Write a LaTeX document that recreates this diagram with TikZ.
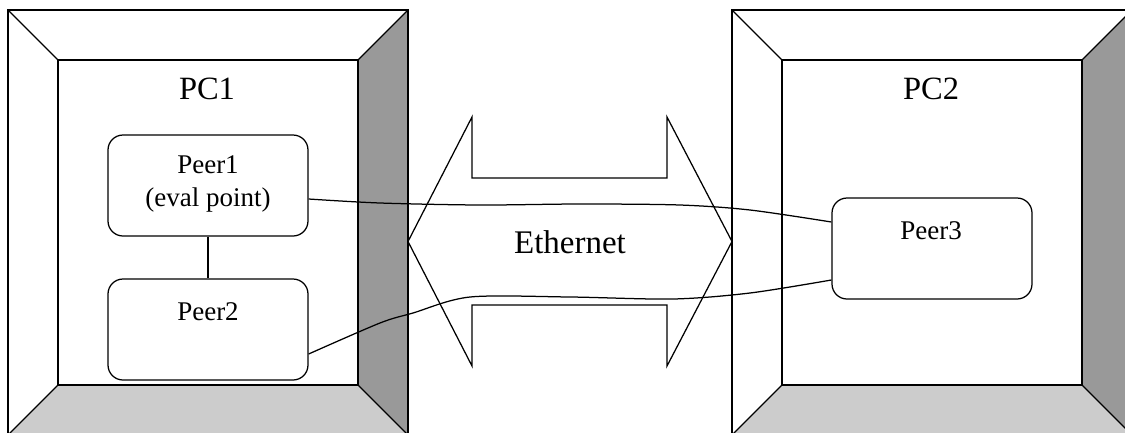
\documentclass[tikz,border=0pt]{standalone}
\usepackage{fontspec}
\setmainfont{Liberation Serif}
\definecolor{darkbevel}{HTML}{999999}
\definecolor{lightbevel}{HTML}{CCCCCC}
\begin{document}
\begin{tikzpicture}[x=1pt,y=-1pt,line width=1.25pt,line join=miter,
  peerbox/.style={draw,fill=white,rounded corners=15pt,minimum width=200pt,minimum height=101pt,inner sep=0pt},
  peertext/.style={font=\fontsize{27}{33}\selectfont,inner sep=0pt,align=center},
  bigtext/.style={font=\fontsize{32.5}{38}\selectfont,inner sep=0pt,anchor=base},
  pcframe/.pic={
    \fill[white] (8,10) rectangle (408,435);
    \fill[darkbevel] (408,10) -- (358,60) -- (358,385) -- (408,435) -- cycle;
    \fill[lightbevel] (58,385) -- (358,385) -- (408,435) -- (8,435) -- cycle;
    \draw (8,10) rectangle (408,435);
    \draw (58,60) rectangle (358,385);
    \draw (8,10) -- (58,60) (408,10) -- (358,60) (358,385) -- (408,435) (58,385) -- (8,435);
  }]
\useasboundingbox (0,0) rectangle (1125,432);
\clip (0,0) rectangle (1125,432);
\fill[white] (0,0) rectangle (1125,432);
\pic at (0,0) {pcframe};
\pic at (724,0) {pcframe};
\node[bigtext] (pc1) at (207,99) {PC1};
\node[bigtext] (pc2) at (931,99) {PC2};
% Ethernet double arrow
\filldraw[fill=white] (408,241.5) -- (472,117) -- (472,178) -- (667,178) -- (667,117) -- (732,241.5)
  -- (667,366) -- (667,305) -- (472,305) -- (472,366) -- cycle;
\node[bigtext,font=\fontsize{33}{38}\selectfont] (eth) at (570,253) {Ethernet};
% peers
\node[peerbox] (p1) at (208,185.5) {};
\node[peertext] (t1) at (208,184.3) {Peer1\\(eval point)};
\node[peerbox] (p2) at (208,329.5) {};
\node[peertext,anchor=base] (t2) at (208,320) {Peer2};
\node[peerbox] (p3) at (932,248.5) {};
\node[peertext,anchor=base] (t3) at (931,239) {Peer3};
% connectors
\coordinate (c1s) at ([yshift=-13.5pt]p1.east);
\coordinate (c1e) at ([yshift=26.5pt]p3.west);
\coordinate (c2s) at ([yshift=-24.5pt]p2.east);
\coordinate (c2e) at ([yshift=-31.5pt]p3.west);
\draw (p1.south) -- (p2.north);
\draw plot[smooth,tension=0.5] coordinates {(c1s) (380,203) (480,205) (580,204) (680,205) (750,210) (c1e)};
\draw plot[smooth,tension=0.5] coordinates {(c2s) (380,323) (413,313) (470,297) (570,297) (673,299) (750,293) (c2e)};
\end{tikzpicture}
\end{document}
